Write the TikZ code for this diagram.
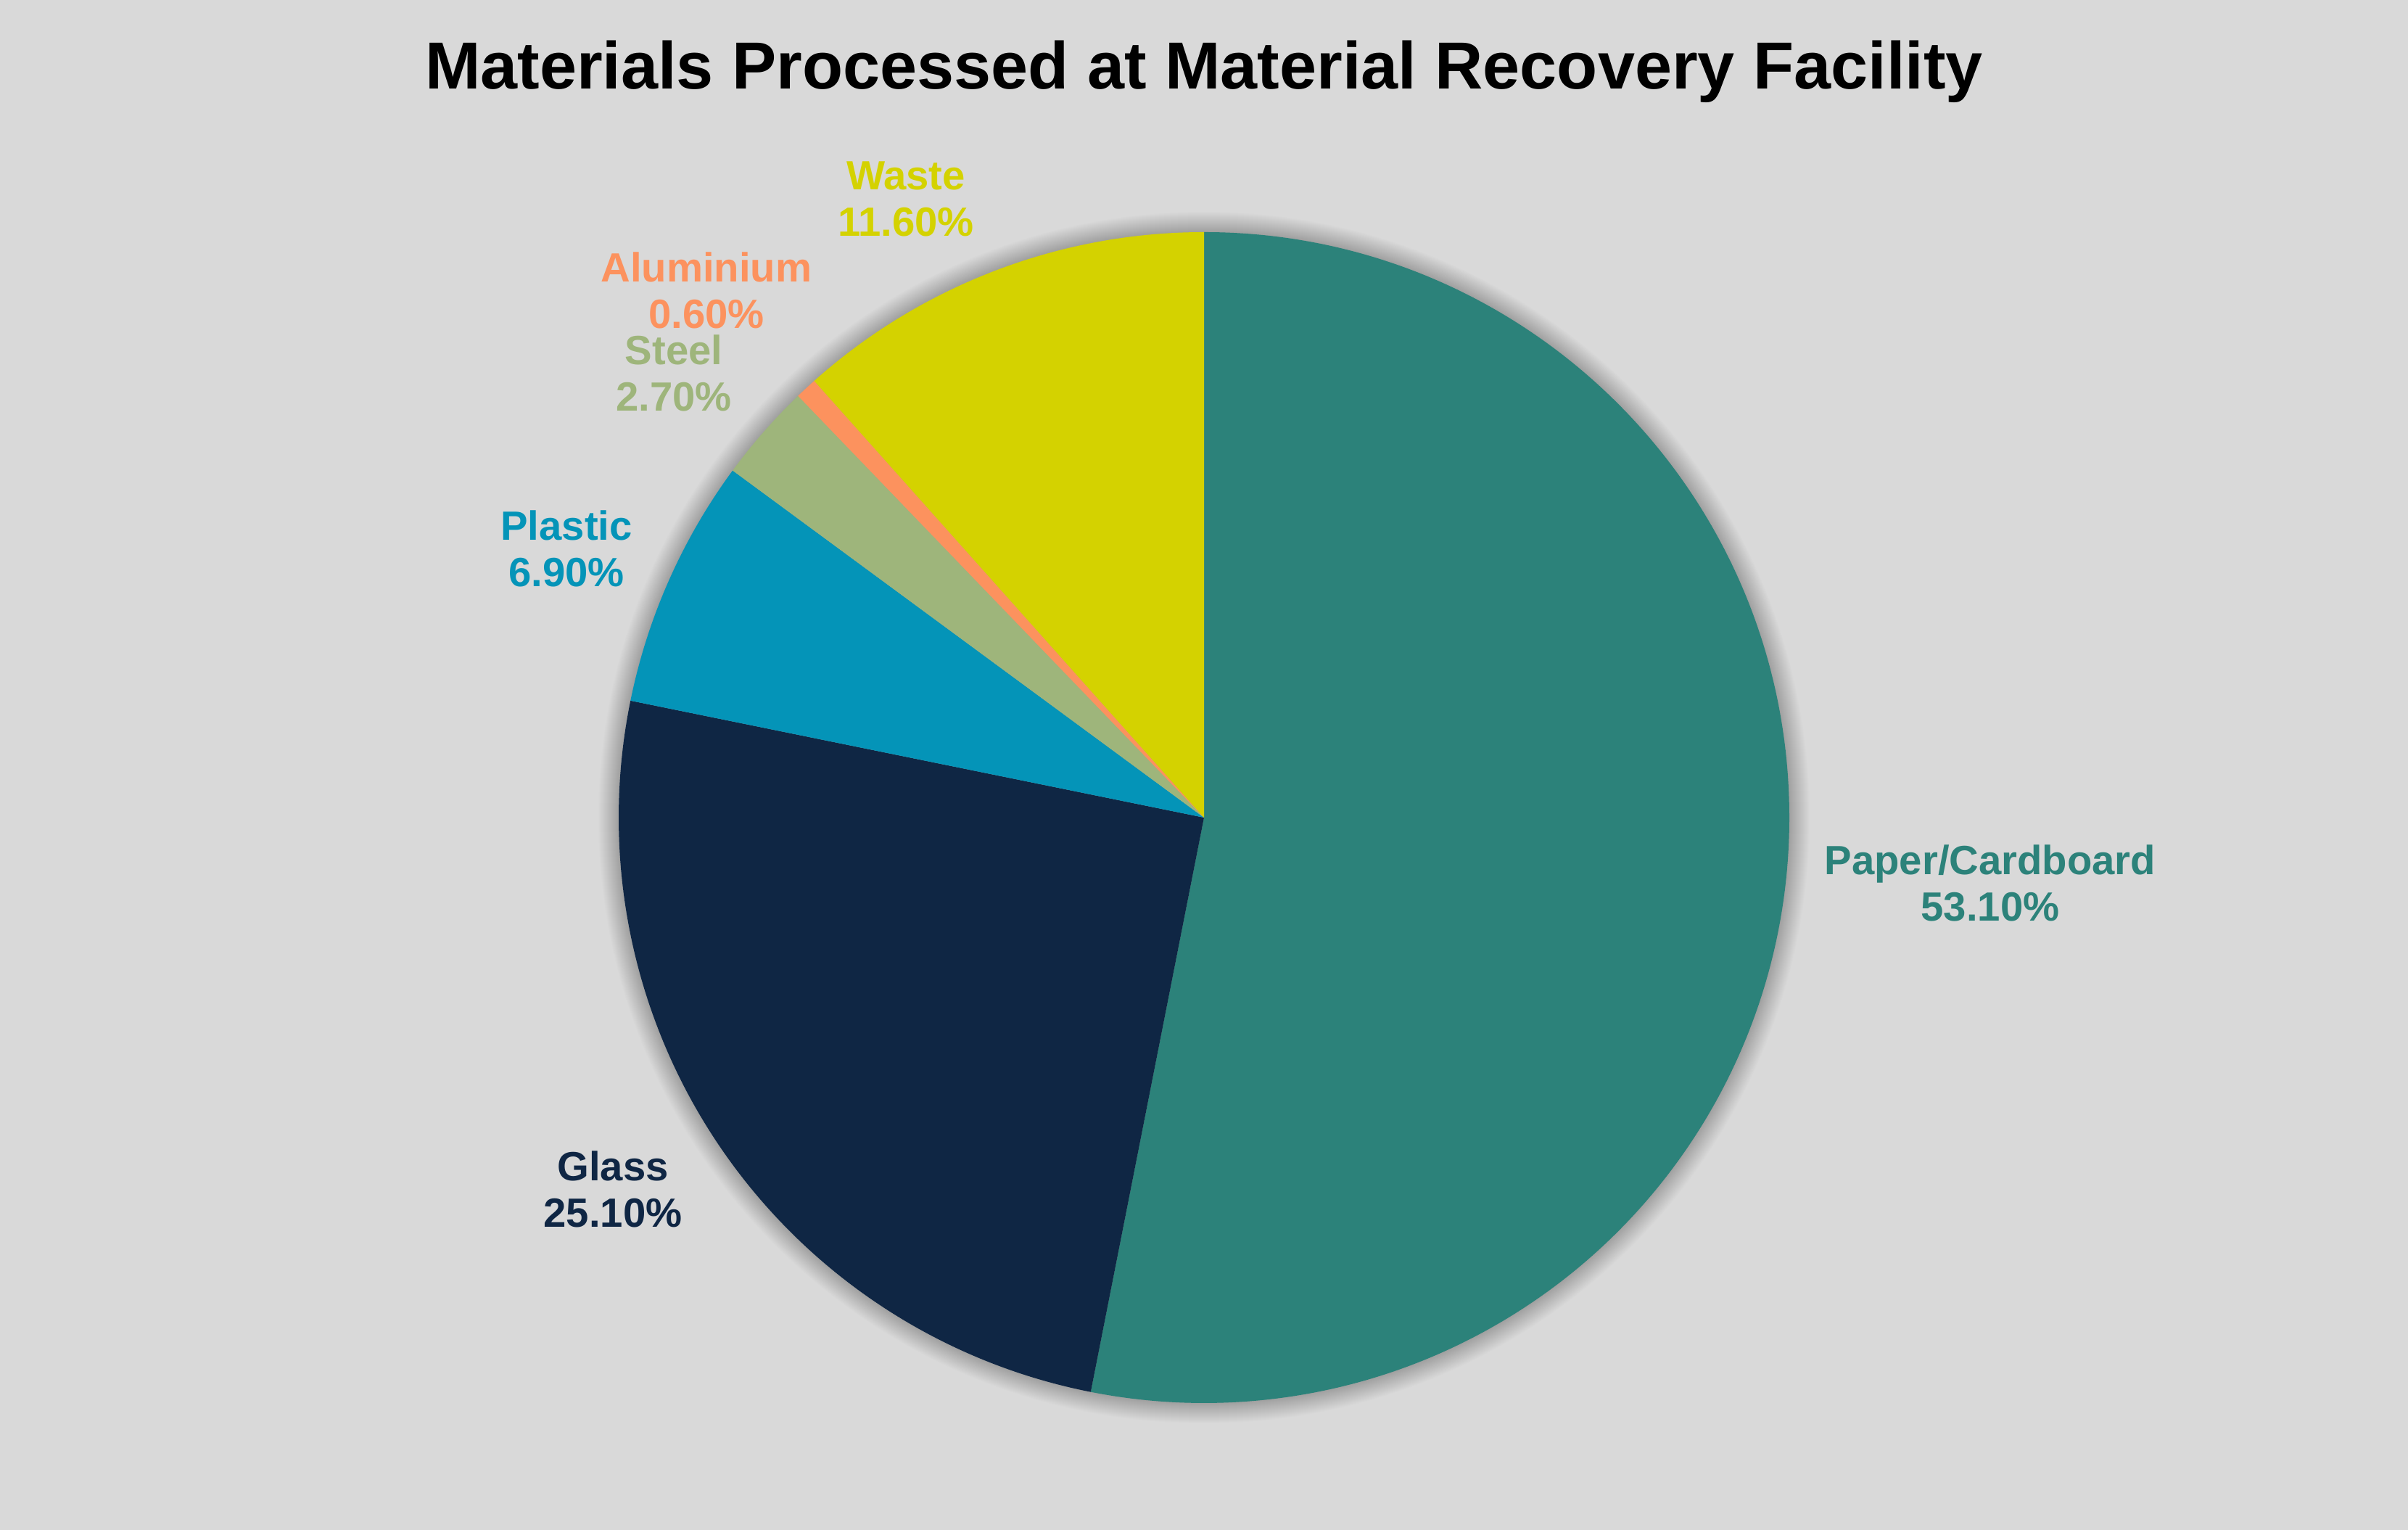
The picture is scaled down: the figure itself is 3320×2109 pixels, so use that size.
\documentclass[tikz,border=0pt]{standalone}
\usepackage{fontspec}
\setmainfont{Liberation Sans}
\definecolor{bgcol}{HTML}{D9D9D9}
\definecolor{paper}{HTML}{2C827A}
\definecolor{glass}{HTML}{0F2644}
\definecolor{plastic}{HTML}{0494B8}
\definecolor{steel}{HTML}{9EB57B}
\definecolor{alu}{HTML}{FC925E}
\definecolor{waste}{HTML}{D4D200}
\tikzset{
  lbl/.style={font=\bfseries\fontsize{16}{18}\selectfont, inner sep=0pt, anchor=base},
  charttitle/.style={font=\bfseries\fontsize{26.1}{30}\selectfont, inner sep=0pt, anchor=base}
}
\begin{document}
\begin{tikzpicture}[x=0.01cm,y=0.01cm]
        \fill[bgcol] (0,0) rectangle (3320,2109);
        \coordinate (ctr) at (1660,982);
        % soft shadow round the pie
        \foreach \k in {1,...,28}
            \fill[black,opacity=0.009] (ctr) circle[radius=807+\k];
        % slices, clockwise from the top
        \foreach \a/\b/\c in {90/-101.16/paper, -101.16/-191.52/glass, -191.52/-216.36/plastic,
                              -216.36/-226.08/steel, -226.08/-228.24/alu, -228.24/-270/waste}
            \fill[\c] (ctr) -- ++(\a:807) arc[start angle=\a, end angle=\b, radius=807] -- cycle;
        \node[charttitle] (title) at (1660,1986) {Materials Processed at Material Recovery Facility};
        \node[lbl,text=paper] (paperlbl) at (2744,903) {Paper/Cardboard};
        \node[lbl,text=paper] (paperpct) at ([yshift=-0.633cm]paperlbl.base) {53.10\%};
        \node[lbl,text=glass] (glasslbl) at (845,481) {Glass};
        \node[lbl,text=glass] (glasspct) at ([yshift=-0.633cm]glasslbl.base) {25.10\%};
        \node[lbl,text=plastic] (plasticlbl) at (781,1364) {Plastic};
        \node[lbl,text=plastic] (plasticpct) at ([yshift=-0.633cm]plasticlbl.base) {6.90\%};
        \node[lbl,text=steel] (steellbl) at (929,1606) {Steel};
        \node[lbl,text=steel] (steelpct) at ([yshift=-0.633cm]steellbl.base) {2.70\%};
        \node[lbl,text=alu] (alulbl) at (974,1720) {Aluminium};
        \node[lbl,text=alu] (alupct) at ([yshift=-0.633cm]alulbl.base) {0.60\%};
        \node[lbl,text=waste] (wastelbl) at (1249,1847) {Waste};
        \node[lbl,text=waste] (wastepct) at ([yshift=-0.633cm]wastelbl.base) {11.60\%};
\end{tikzpicture}
\end{document}
